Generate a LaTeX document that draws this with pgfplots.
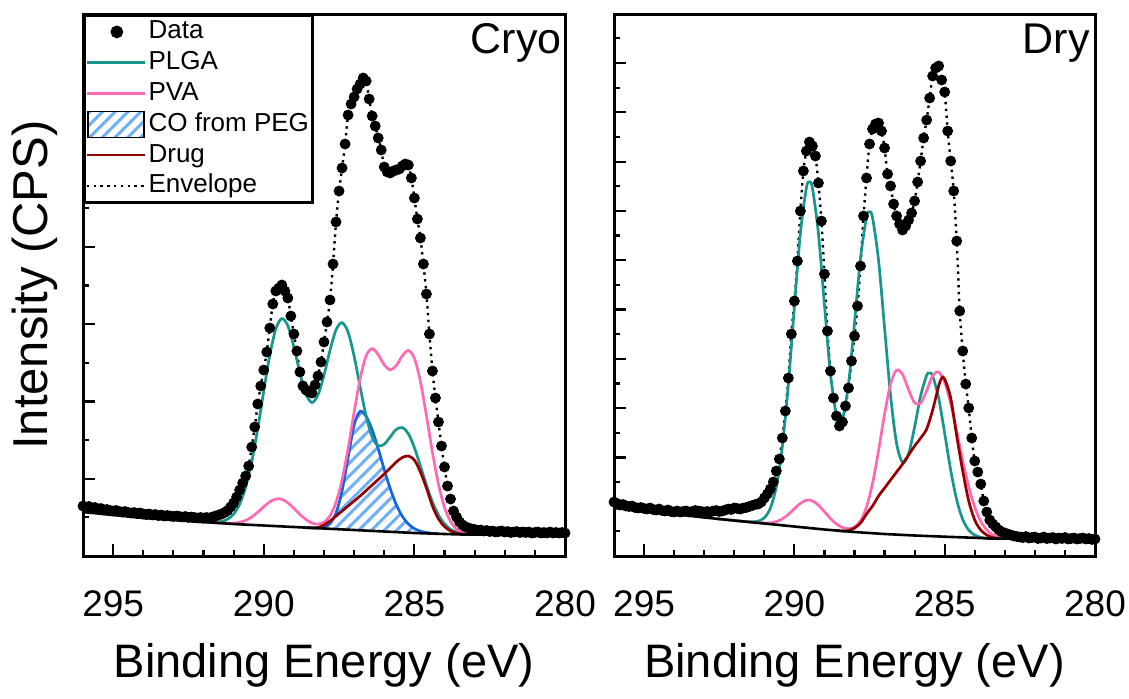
\documentclass[border=0pt]{standalone}
\usepackage{fontspec}
\setmainfont{Liberation Sans}
\usepackage{pgfplots}
\usepackage{pgfplotstable}
\pgfplotsset{compat=1.18}
\usepgfplotslibrary{fillbetween}
\usetikzlibrary{patterns.meta}

\definecolor{plga}{RGB}{22,150,140}
\definecolor{pva}{RGB}{255,105,180}
\definecolor{peg}{RGB}{20,100,220}
\definecolor{hatch}{RGB}{110,175,245}
\definecolor{drug}{RGB}{150,0,0}

% measured spectra (binding energy, counts in plot units)
\pgfplotstableread[row sep=\\]{
E I\\
296.0 50\\ 295.9 49\\ 295.8 49.5\\ 295.7 48\\ 295.6 48.5\\ 295.5 47\\ 295.4 47.5\\ 295.3 46\\ 295.2 46.5\\ 295.1 45.5\\
295.0 45\\ 294.9 45.5\\ 294.8 44.5\\ 294.7 44\\ 294.6 44.5\\ 294.5 43.5\\ 294.4 43\\ 294.3 43.5\\ 294.2 42.5\\ 294.1 43\\
294.0 42\\ 293.9 41.5\\ 293.8 42\\ 293.7 41\\ 293.6 41.5\\ 293.5 40.5\\ 293.4 41\\ 293.3 40\\ 293.2 40.5\\ 293.1 40\\
293.0 39.5\\ 292.9 40\\ 292.8 39.5\\ 292.7 39\\ 292.6 39.5\\ 292.5 38.5\\ 292.4 39\\ 292.3 38.5\\ 292.2 38\\ 292.1 38.5\\
292.0 38\\ 291.9 38.5\\ 291.8 38\\ 291.7 39\\ 291.6 40\\ 291.5 41\\ 291.4 42\\ 291.3 43.5\\ 291.2 45.5\\ 291.1 49\\
291.0 53\\ 290.9 59\\ 290.8 66\\ 290.7 73\\ 290.6 80\\ 290.5 90\\ 290.4 109\\ 290.3 129\\ 290.2 152\\ 290.1 170\\
290.0 186\\ 289.9 204\\ 289.8 228\\ 289.7 252\\ 289.6 265\\ 289.5 268\\ 289.4 271\\ 289.3 265\\ 289.2 258\\ 289.1 240\\
289.0 222\\ 288.9 205\\ 288.8 184\\ 288.7 170\\ 288.6 166\\ 288.5 164\\ 288.4 163\\ 288.3 171\\ 288.2 180\\ 288.1 194\\
288.0 214\\ 287.9 234\\ 287.8 256\\ 287.7 292\\ 287.6 334\\ 287.5 365\\ 287.4 388\\ 287.3 412\\ 287.2 441\\ 287.1 452\\
287.0 459\\ 286.9 467\\ 286.8 472\\ 286.7 478\\ 286.6 475\\ 286.5 457\\ 286.4 440\\ 286.3 430\\ 286.2 418\\ 286.1 406\\
286.0 389\\ 285.9 384\\ 285.8 383\\ 285.7 385\\ 285.6 386\\ 285.5 387\\ 285.4 390\\ 285.3 392\\ 285.2 391\\ 285.1 378\\
285.0 358\\ 284.9 337\\ 284.8 318\\ 284.7 292\\ 284.6 262\\ 284.5 222\\ 284.4 185\\ 284.3 158\\ 284.2 134\\ 284.1 110\\
284.0 89\\ 283.9 70\\ 283.8 57\\ 283.7 45\\ 283.6 39\\ 283.5 34\\ 283.4 31\\ 283.3 29\\ 283.2 28\\ 283.1 27\\
283.0 26.5\\ 282.9 25.5\\ 282.8 26\\ 282.7 25\\ 282.6 25.5\\ 282.5 24.5\\ 282.4 25\\ 282.3 24\\ 282.2 24.5\\ 282.1 25\\
282.0 24\\ 281.9 24.5\\ 281.8 23.5\\ 281.7 24\\ 281.6 24.5\\ 281.5 23.5\\ 281.4 24\\ 281.3 23.5\\ 281.2 24\\ 281.1 23\\
281.0 23.5\\ 280.9 24\\ 280.8 23\\ 280.7 23.5\\ 280.6 23\\ 280.5 24\\ 280.4 23\\ 280.3 23.5\\ 280.2 23\\ 280.1 23.5\\
280.0 23\\
}\cryodata

\pgfplotstableread[row sep=\\]{
E I\\
296.0 54\\ 295.9 52.5\\ 295.8 51\\ 295.7 51.5\\ 295.6 50\\ 295.5 49.5\\ 295.4 50\\ 295.3 48.5\\ 295.2 48\\ 295.1 48.5\\
295.0 47.5\\ 294.9 47\\ 294.8 48\\ 294.7 46.5\\ 294.6 46\\ 294.5 47\\ 294.4 45.5\\ 294.3 45\\ 294.2 46\\ 294.1 44.5\\
294.0 44\\ 293.9 45\\ 293.8 44\\ 293.7 44.5\\ 293.6 45\\ 293.5 44\\ 293.4 44.5\\ 293.3 45.5\\ 293.2 45\\ 293.1 44.5\\
293.0 44\\ 292.9 44.5\\ 292.8 44\\ 292.7 45\\ 292.6 45.5\\ 292.5 44.5\\ 292.4 45\\ 292.3 46\\ 292.2 47\\ 292.1 46.5\\
292.0 48\\ 291.9 47.5\\ 291.8 47\\ 291.7 48\\ 291.6 48.5\\ 291.5 49.5\\ 291.4 50.5\\ 291.3 51.5\\ 291.2 52\\ 291.1 54\\
291.0 58\\ 290.9 62\\ 290.8 67\\ 290.7 74\\ 290.6 85\\ 290.5 97\\ 290.4 118\\ 290.3 145\\ 290.2 178\\ 290.1 222\\
290.0 255\\ 289.9 295\\ 289.8 345\\ 289.7 385\\ 289.6 405\\ 289.5 414\\ 289.4 410\\ 289.3 400\\ 289.2 373\\ 289.1 335\\
289.0 282\\ 288.9 225\\ 288.8 185\\ 288.7 158\\ 288.6 140\\ 288.5 130\\ 288.4 134\\ 288.3 150\\ 288.2 168\\ 288.1 195\\
288.0 220\\ 287.9 250\\ 287.8 290\\ 287.7 340\\ 287.6 378\\ 287.5 412\\ 287.4 427\\ 287.3 432\\ 287.2 433\\ 287.1 425\\
287.0 408\\ 286.9 382\\ 286.8 370\\ 286.7 352\\ 286.6 340\\ 286.5 332\\ 286.4 326\\ 286.3 330\\ 286.2 336\\ 286.1 343\\
286.0 355\\ 285.9 374\\ 285.8 395\\ 285.7 418\\ 285.6 436\\ 285.5 458\\ 285.4 480\\ 285.3 488\\ 285.2 490\\ 285.1 476\\
285.0 464\\ 284.9 425\\ 284.8 395\\ 284.7 365\\ 284.6 315\\ 284.5 245\\ 284.4 205\\ 284.3 172\\ 284.2 148\\ 284.1 118\\
284.0 95\\ 283.9 84\\ 283.8 72\\ 283.7 55\\ 283.6 44\\ 283.5 36\\ 283.4 32\\ 283.3 29\\ 283.2 26\\ 283.1 24\\
283.0 23\\ 282.9 22\\ 282.8 21\\ 282.7 20\\ 282.6 19.5\\ 282.5 19\\ 282.4 18.5\\ 282.3 19.5\\ 282.2 18\\ 282.1 18.5\\
282.0 19\\ 281.9 17.5\\ 281.8 18\\ 281.7 19\\ 281.6 17.5\\ 281.5 18\\ 281.4 18.5\\ 281.3 17\\ 281.2 18\\ 281.1 17.5\\
281.0 18.5\\ 280.9 17\\ 280.8 17.5\\ 280.7 18\\ 280.6 17\\ 280.5 17.5\\ 280.4 18\\ 280.3 17\\ 280.2 17.5\\ 280.1 16.5\\
280.0 17\\
}\drydata

\pgfplotsset{
  xps/.style={
    scale only axis, height=271pt,
    xmin=280, xmax=296, x dir=reverse,
    ymin=0, ymax=542,
    xtick={280,285,290,295}, minor x tick num=4,
    minor y tick num=1,
    xtick pos=bottom, ytick pos=left,
    yticklabel style={opacity=0},
    tick align=inside,
    major tick length=6pt, minor tick length=3pt,
    tick style={black, line width=1.1pt},
    axis line style={line width=1.5pt},
    /pgf/number format/assume math mode=true,
    xticklabel style={font=\fontsize{18.5}{20}\selectfont, anchor=center, yshift=-24pt},
    xlabel={Binding Energy (eV)},
    xlabel style={font=\fontsize{23.5}{26}\selectfont, at={(axis description cs:0.5,-0.201)}, anchor=center},
  },
  comp/.style={smooth, line width=1.35pt, forget plot},
  dots/.style={only marks, mark=*, mark size=2.5pt, black, forget plot},
  env/.style={smooth, black, line width=1.2pt, dash pattern=on 1.2pt off 2.2pt, forget plot},
}

\begin{document}
\begin{tikzpicture}

% ---------------- Cryo ----------------
\begin{axis}[xps, width=241pt,
    ytick={0,77.3,...,542},
    ylabel={Intensity (CPS)},
    ylabel style={font=\fontsize{24.5}{27}\selectfont, at={(axis description cs:-0.0996,0.5)}, anchor=center},
    legend style={at={(0,1)}, anchor=north west, draw=black, line width=1.5pt,
      font=\fontsize{13}{15}\selectfont, inner sep=0.5pt, row sep=0pt,
      nodes={inner sep=1.2pt, text height=10pt, text depth=3pt},
      /tikz/every even column/.append style={column sep=2pt}},
    legend cell align=left]

\addlegendimage{legend image code/.code={\fill[black] (15pt,0pt) circle (2.4pt);}}
\addlegendentry{Data}
\addlegendimage{legend image code/.code={\draw[plga, line width=1.35pt] (0pt,0pt) -- (29pt,0pt);}}
\addlegendentry{PLGA}
\addlegendimage{legend image code/.code={\draw[pva, line width=1.35pt] (0pt,0pt) -- (29pt,0pt);}}
\addlegendentry{PVA}
\addlegendimage{legend image code/.code={\draw[black, line width=0.8pt, pattern={Lines[angle=45,distance=4.5pt,line width=1.5pt]}, pattern color=hatch] (0.5pt,-6.5pt) rectangle (28.5pt,6.5pt);}}
\addlegendentry{CO from PEG}
\addlegendimage{legend image code/.code={\draw[drug, line width=1.35pt] (0pt,0pt) -- (29pt,0pt);}}
\addlegendentry{Drug}
\addlegendimage{legend image code/.code={\draw[black, line width=1.2pt, dash pattern=on 1.2pt off 2.2pt] (0pt,0pt) -- (29pt,0pt);}}
\addlegendentry{Envelope}

\addplot[env] table[x=E, y=I] {\cryodata};
\addplot[dots] table[x=E, y=I] {\cryodata};

% CO from PEG, hatched down to the background
\addplot[comp, draw=none, name path=coB] coordinates {(288.6,28.4) (286.0,24.5) (285.0,23.0) (284.2,22.2)};
\addplot[comp, draw=none, name path=coL] coordinates {
(288.6,28.4) (288.4,28.1) (288.2,28.0) (288.0,28.8) (287.8,32.4) (287.6,43.0) (287.4,65.3)
(287.2,98.5) (287.0,131.0) (286.8,144.7) (286.6,139.6) (286.4,126.1) (286.2,107.3) (286.0,86.4)
(285.8,67.2) (285.6,51.3) (285.4,39.7) (285.2,32.0) (285.0,27.4) (284.8,24.8) (284.6,23.5)
(284.4,22.7) (284.2,22.3)};
\addplot[pattern={Lines[angle=45,distance=4.5pt,line width=1.5pt]}, pattern color=hatch, draw=none, forget plot] fill between[of=coL and coB];
\addplot[comp, peg] coordinates {
(288.6,28.4) (288.4,28.1) (288.2,28.0) (288.0,28.8) (287.8,32.4) (287.6,43.0) (287.4,65.3)
(287.2,98.5) (287.0,131.0) (286.8,144.7) (286.6,139.6) (286.4,126.1) (286.2,107.3) (286.0,86.4)
(285.8,67.2) (285.6,51.3) (285.4,39.7) (285.2,32.0) (285.0,27.4) (284.8,24.8) (284.6,23.5)
(284.4,22.7) (284.2,22.3)};

% PLGA
\addplot[comp, plga] coordinates {
(292.4,34.8) (292.0,34.0) (291.8,33.8) (291.6,33.9) (291.4,34.6) (291.2,36.8) (291.0,41.9)
(290.8,51.9) (290.6,68.9) (290.4,94.1) (290.2,127.4) (290.0,165.0) (289.8,200.8) (289.6,227.1)
(289.4,237.4) (289.2,230.2) (289.0,209.2) (288.8,183.2) (288.6,162.1) (288.4,153.5) (288.2,161.0)
(288.0,180.9) (287.8,205.8) (287.6,226.2) (287.4,233.3) (287.2,223.8) (287.0,199.8) (286.8,169.0)
(286.6,139.8) (286.4,119.0) (286.2,110.2) (286.0,111.8) (285.8,119.2) (285.6,126.6) (285.4,128.4)
(285.2,122.3) (285.0,108.4) (284.8,90.1) (284.6,70.9) (284.4,53.9) (284.2,40.9) (284.0,32.1)
(283.8,26.7) (283.6,23.8) (283.4,22.4) (283.2,21.8) (283.0,21.6)};

% PVA
\addplot[comp, pva] coordinates {
(292.4,34.8) (292.0,34.0) (291.8,33.6) (291.6,33.2) (291.4,32.9) (291.2,32.7) (291.0,32.9)
(290.8,33.7) (290.6,35.7) (290.4,39.0) (290.2,43.8) (290.0,49.2) (289.8,54.2) (289.6,57.0)
(289.4,56.7) (289.2,53.3) (289.0,47.7) (288.8,41.7) (288.6,36.5) (288.4,33.0) (288.2,31.9)
(288.0,33.8) (287.8,40.3) (287.6,53.7) (287.4,76.2) (287.2,107.5) (287.0,143.8) (286.8,177.5)
(286.6,200.2) (286.4,207.3) (286.2,201.3) (286.0,191.1) (285.8,186.2) (285.6,190.5) (285.4,200.1)
(285.2,205.5) (285.0,197.8) (284.8,174.6) (284.6,140.4) (284.4,103.6) (284.2,71.8) (284.0,48.7)
(283.8,34.6) (283.6,27.0) (283.4,23.5) (283.2,22.2) (283.0,21.7)};

% Drug
\addplot[comp, drug] coordinates {
(288.6,28.4) (288.4,28.1) (288.2,28.5) (288.0,31) (287.8,35) (287.6,40) (287.4,45) (287.2,50)
(287.0,55) (286.8,60) (286.6,65.5) (286.4,71) (286.2,76.5) (286.0,82) (285.8,88) (285.6,94)
(285.4,98.5) (285.2,100) (285.0,96) (284.8,84) (284.6,68) (284.4,50) (284.2,37) (284.0,29.5)
(283.8,25) (283.6,22.8) (283.4,21.8) (283.2,21.5)};

% background
\addplot[black, line width=1.3pt, forget plot] coordinates {
(296,44) (295,41) (294,38) (293,36) (292,34) (291,32) (290,30.5) (289,29) (288,27.5)
(287,26) (286,24.5) (285,23) (284,22) (283.4,21.5) (280,21.5)};

\node[anchor=north east, inner sep=0pt, font=\fontsize{21.5}{24}\selectfont] at (rel axis cs:0.994,0.983) {Cryo};
\end{axis}

% ---------------- Dry ----------------
\begin{axis}[xps, width=240.5pt, at={(265.5pt,0pt)},
    ytick={0,49.3,...,542}]

\addplot[env] table[x=E, y=I] {\drydata};
\addplot[dots] table[x=E, y=I] {\drydata};

% PLGA
\addplot[comp, plga] coordinates {
(292.6,37.3) (292.0,35.5) (291.8,34.9) (291.6,34.4) (291.4,34.2) (291.2,34.9) (291.0,38.2)
(290.8,47.8) (290.6,69.4) (290.4,109.6) (290.2,171.6) (290.0,248.9) (289.8,322.7) (289.6,368.1)
(289.5,374.2) (289.4,368.0) (289.2,322.5) (289.0,251.2) (288.8,182.2) (288.6,139.7) (288.5,132.7)
(288.4,136.3) (288.2,171.7) (288.0,233.2) (287.8,297.9) (287.6,338.9) (287.5,344.3) (287.4,338.3)
(287.2,295.7) (287.0,228.2) (286.8,160.5) (286.6,112.5) (286.4,93.6) (286.2,102.2) (286.0,129.1)
(285.8,160.3) (285.6,180.6) (285.5,183.1) (285.4,180.0) (285.2,157.9) (285.0,122.6) (284.8,85.8)
(284.6,56.1) (284.4,36.5) (284.2,25.9) (284.0,20.9) (283.8,18.7) (283.6,17.8) (283.4,17.5) (283.2,17.3)};

% PVA
\addplot[comp, pva] coordinates {
(292.6,37.3) (292.0,35.5) (291.8,34.9) (291.6,34.3) (291.4,33.7) (291.2,33.2) (291.0,33.0)
(290.8,33.2) (290.6,34.4) (290.4,37.1) (290.2,41.6) (290.0,47.3) (289.8,52.7) (289.6,55.8)
(289.5,56.0) (289.4,55.2) (289.2,50.9) (289.0,44.3) (288.8,37.5) (288.6,32.0) (288.4,28.5)
(288.2,27.3) (288.0,28.9) (287.8,35.3) (287.6,49.0) (287.4,72.6) (287.2,105.4) (287.0,141.9)
(286.8,172.0) (286.6,185.9) (286.4,181.5) (286.2,166.1) (286.0,153.1) (285.8,152.9) (285.6,165.3)
(285.4,180.2) (285.2,184.0) (285.0,173.6) (284.8,152.6) (284.6,124.8) (284.4,95.4) (284.2,69.1)
(284.0,48.8) (283.8,34.7) (283.6,26.1) (283.4,21.2) (283.2,18.9) (283.0,17.9)};

% Drug
\addplot[comp, drug] coordinates {
(288.6,25.5) (288.4,25.0) (288.2,25.5) (288.0,28) (287.8,33) (287.6,42) (287.4,50) (287.2,60)
(287.0,68) (286.8,76) (286.6,84) (286.4,92) (286.2,101) (286.0,110) (285.8,118) (285.6,127)
(285.4,146) (285.2,170) (285.1,178) (285.0,177) (284.8,158) (284.6,120) (284.4,85) (284.2,55)
(284.0,36) (283.8,26) (283.6,21) (283.4,18.5) (283.2,17.5)};

% background
\addplot[black, line width=1.3pt, forget plot] coordinates {
(296,48) (295,45) (294,42) (293,38.5) (292,35.5) (291,32.5) (290,29.5) (289,26.5) (288,24)
(287,22) (286,20.5) (285,19.3) (284,18.2) (283.5,17.5) (280,17)};

\node[anchor=north east, inner sep=0pt, font=\fontsize{21.5}{24}\selectfont] at (rel axis cs:0.99,0.983) {Dry};
\end{axis}

\pgfresetboundingbox
\path[use as bounding box] (-41.5pt,-71pt) rectangle (523pt,278pt);
\end{tikzpicture}
\end{document}
